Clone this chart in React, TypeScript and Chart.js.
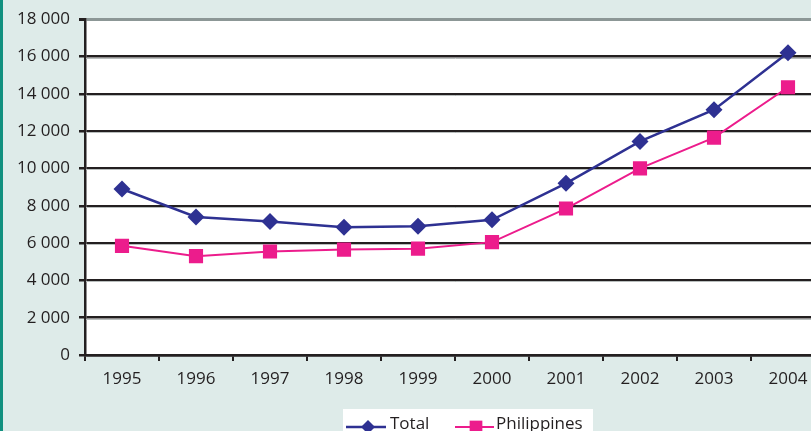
import React, { useEffect, useRef } from "react";
import { Chart, registerables } from "chart.js";

Chart.register(...registerables);

const years = ["1995", "1996", "1997", "1998", "1999", "2000", "2001", "2002", "2003", "2004"];
const totalValues = [8900, 7400, 7150, 6850, 6900, 7250, 9200, 11450, 13150, 16200];
const philippinesValues = [5850, 5300, 5550, 5650, 5700, 6050, 7850, 10000, 11650, 14350];
const seriesNames = ["Total", "Philippines"];
const yMin = 0;
const yMax = 18000;
const yStep = 2000;

const BLUE = "#2e3192";
const PINK = "#ec1c8c";
const INK = "#231f20";
const FONT = "'Open Sans', sans-serif";

const fmt = (v: number) => String(v).replace(/\B(?=(\d{3})+(?!\d))/g, " ");

const decorPlugin = {
  id: "decor",
  beforeDraw(chart: any) {
    const { ctx, chartArea } = chart;
    ctx.save();
    ctx.fillStyle = "#deebe9";
    ctx.fillRect(0, 0, chart.width, chart.height);
    ctx.fillStyle = "#11907f";
    ctx.fillRect(0, 0, 3, chart.height);
    ctx.fillStyle = "#ffffff";
    ctx.fillRect(chartArea.left, chartArea.top, chartArea.right - chartArea.left, chartArea.bottom - chartArea.top);
    ctx.restore();
  },
  beforeDatasetsDraw(chart: any) {
    const { ctx, chartArea } = chart;
    const ys = chart.scales.y;
    ctx.save();
    ctx.strokeStyle = "#b9bebd";
    ctx.lineWidth = 1;
    ys.ticks.forEach((t: any) => {
      if (t.value === yMax || t.value === yMin) return;
      const py = Math.round(ys.getPixelForValue(t.value)) + 1.5;
      ctx.beginPath();
      ctx.moveTo(chartArea.left + 1, py);
      ctx.lineTo(chartArea.right, py);
      ctx.stroke();
    });
    ctx.restore();
  },
  afterDraw(chart: any) {
    const { ctx } = chart;
    ctx.save();
    ctx.fillStyle = "#ffffff";
    ctx.fillRect(343, 409, 250, 30);
    const y = 427;
    const items = [
      { x0: 346, x1: 386, mx: 368, tx: 390, color: BLUE, style: "rectRot", r: 7, w: 2.5, label: seriesNames[0] },
      { x0: 455, x1: 494, mx: 476, tx: 496, color: PINK, style: "rect", r: 9, w: 2, label: seriesNames[1] },
    ];
    items.forEach((it) => {
      ctx.strokeStyle = it.color;
      ctx.lineWidth = it.w;
      ctx.beginPath();
      ctx.moveTo(it.x0, y);
      ctx.lineTo(it.x1, y);
      ctx.stroke();
      ctx.fillStyle = it.color;
      ctx.beginPath();
      if (it.style === "rectRot") {
        ctx.moveTo(it.mx - it.r, y);
        ctx.lineTo(it.mx, y - it.r);
        ctx.lineTo(it.mx + it.r, y);
        ctx.lineTo(it.mx, y + it.r);
        ctx.closePath();
      } else {
        const s = Math.SQRT1_2 * it.r;
        ctx.rect(it.mx - s, y - s, 2 * s, 2 * s);
      }
      ctx.fill();
      ctx.fillStyle = INK;
      ctx.font = `17px ${FONT}`;
      ctx.textBaseline = "alphabetic";
      ctx.textAlign = "left";
      ctx.fillText(it.label, it.tx, 429);
    });
    ctx.restore();
  },
};

export default function App() {
  const ref = useRef<HTMLCanvasElement>(null);
  useEffect(() => {
    if (!ref.current) return;
    const chart = new Chart(ref.current, {
      type: "line",
      data: {
        labels: years,
        datasets: [
          {
            label: seriesNames[0],
            data: totalValues,
            borderColor: BLUE,
            backgroundColor: BLUE,
            borderWidth: 2.5,
            pointStyle: "rectRot",
            pointRadius: 8.5,
            pointBorderWidth: 0,
            tension: 0,
          },
          {
            label: seriesNames[1],
            data: philippinesValues,
            borderColor: PINK,
            backgroundColor: PINK,
            borderWidth: 2,
            pointStyle: "rect",
            pointRadius: 10,
            pointBorderWidth: 0,
            tension: 0,
          },
        ],
      },
      options: {
        responsive: false,
        animation: false,
        layout: { padding: { top: 17, right: 4, left: 0, bottom: 0 } },
        plugins: { legend: { display: false }, tooltip: { enabled: false } },
        scales: {
          x: {
            offset: true,
            grid: { offset: true, drawOnChartArea: false, drawTicks: true, tickLength: 6, tickColor: INK, lineWidth: 2, color: INK },
            border: { color: INK, width: 2.5 },
            ticks: { color: INK, font: { family: FONT, size: 17 }, padding: 8, maxRotation: 0 },
            afterFit: (s: any) => {
              s.height = 76;
            },
          },
          y: {
            min: yMin,
            max: yMax,
            grid: {
              color: (c: any) => (c.tick && c.tick.value === yMax ? "#8c9796" : INK),
              lineWidth: (c: any) => (c.tick && c.tick.value === yMax ? 3 : 2.5),
              tickLength: 6,
              tickColor: INK,
            },
            border: { color: INK, width: 2.5 },
            ticks: {
              stepSize: yStep,
              color: INK,
              font: { family: FONT, size: 17 },
              padding: 9,
              callback: (v: any) => fmt(Number(v)),
            },
            afterFit: (s: any) => {
              s.width = 85;
            },
          },
        },
      },
      plugins: [decorPlugin],
    });
    return () => chart.destroy();
  }, []);
  return (
    <div style={{ position: "fixed", left: 0, top: 0, width: 811, height: 431, overflow: "hidden", background: "#deebe9" }}>
      <canvas ref={ref} width={835} height={431} style={{ display: "block" }} />
    </div>
  );
}
